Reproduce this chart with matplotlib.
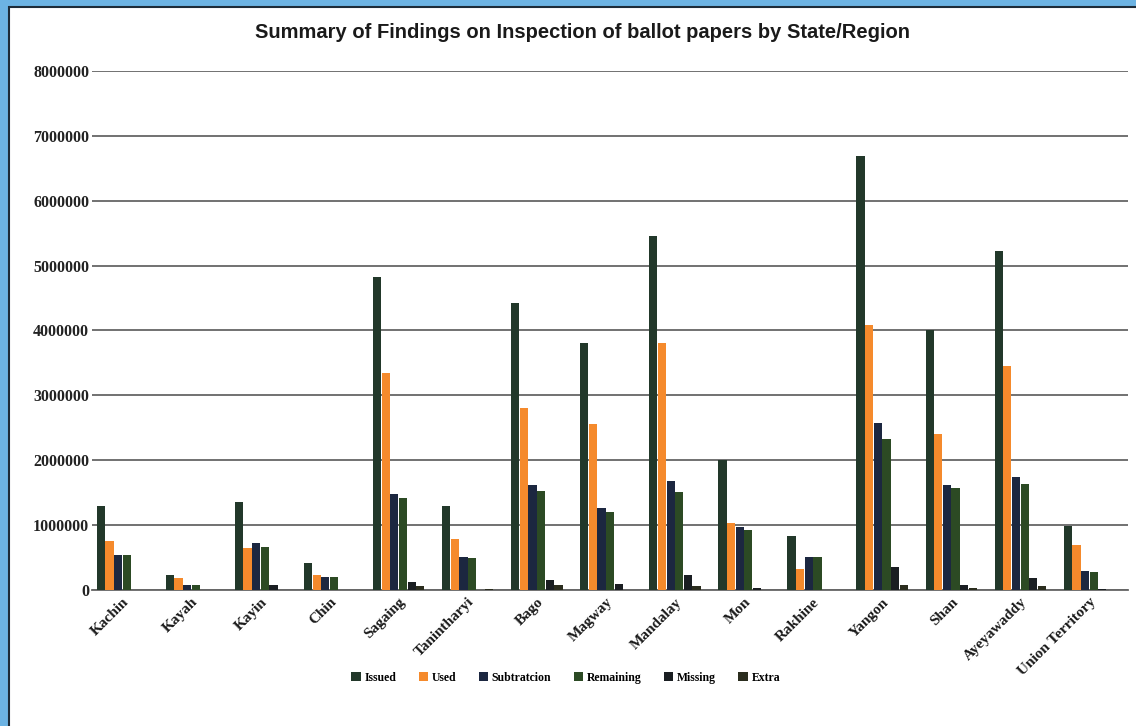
import numpy as np
import matplotlib
matplotlib.use('Agg')
import matplotlib.pyplot as plt
from matplotlib.patches import Rectangle

# ballot paper inspection by state / region
categories = ['Kachin', 'Kayah', 'Kayin', 'Chin', 'Sagaing', 'Tanintharyi', 'Bago',
              'Magway', 'Mandalay', 'Mon', 'Rakhine', 'Yangon', 'Shan',
              'Ayeyawaddy', 'Union Territory']
issued = [1300000, 230000, 1360000, 420000, 4820000, 1300000, 4420000, 3810000,
          5460000, 2000000, 830000, 6690000, 4010000, 5230000, 980000]
used = [760000, 180000, 640000, 230000, 3350000, 790000, 2810000, 2560000,
        3800000, 1040000, 320000, 4080000, 2410000, 3460000, 690000]
subtraction = [540000, 70000, 720000, 195000, 1480000, 510000, 1620000, 1270000,
               1680000, 970000, 510000, 2580000, 1620000, 1740000, 290000]
remaining = [540000, 70000, 660000, 195000, 1420000, 500000, 1530000, 1200000,
             1510000, 930000, 510000, 2330000, 1570000, 1640000, 280000]
missing = [0, 0, 70000, 0, 120000, 0, 160000, 100000, 230000, 30000, 0,
           350000, 77000, 180000, 20000]
extra = [0, 0, 0, 0, 56000, 15000, 77000, 0, 67000, 0, 0, 77000, 36000,
         60000, 0]

series_names = ['Issued', 'Used', 'Subtratcion', 'Remaining', 'Missing', 'Extra']
series = [issued, used, subtraction, remaining, missing, extra]
colors = ['#22382a', '#f58a2c', '#1c2740', '#2c4a24', '#1a1e22', '#2b2d1e']

fig = plt.figure(figsize=(11.36, 7.26), dpi=100)
fig.patch.set_facecolor('#6cb3e3')
# white slide panel with dark edge, kept behind the axes
fig.patches.append(Rectangle((9 / 1136, -0.01), 1.0, 1.01 - 7 / 726, transform=fig.transFigure,
                             facecolor='white', edgecolor='#1d2b38', linewidth=1.5, zorder=-10))

ax = fig.add_axes([0.081, 0.1873, 0.912, 0.715])
ax.set_zorder(1)
ax.set_facecolor('none')

x = np.arange(len(categories))
width = 0.125
for i, (name, vals, c) in enumerate(zip(series_names, series, colors)):
    ax.bar(x + (i - 2.5) * width - 0.06, vals, width * 0.95, color=c, label=name, zorder=3)

ax.set_ylim(0, 8000000)
ax.set_xlim(-0.5, len(categories) - 0.5)
ax.set_yticks(np.arange(0, 8000001, 1000000))
ax.set_yticklabels([str(v) for v in range(0, 8000001, 1000000)],
                   fontfamily='Liberation Serif', fontweight='bold', fontsize=11.5, color='#222222')
ax.tick_params(axis='y', length=0, pad=2)
ax.tick_params(axis='x', length=0, pad=4)
ax.yaxis.grid(True, color='#666666', linewidth=1.3, zorder=0)
for s in ['top', 'right', 'left']:
    ax.spines[s].set_visible(False)
ax.spines['bottom'].set_color('#666666')
ax.spines['bottom'].set_linewidth(1.3)

ax.set_xticks(x - 0.06)
ax.set_xticklabels(categories, rotation=45, ha='right', rotation_mode='anchor',
                   fontfamily='Liberation Serif', fontweight='bold', fontsize=11, color='#1a1a1a')

fig.text(0.513, 0.955, 'Summary of Findings on Inspection of ballot papers by State/Region',
         ha='center', va='center', fontfamily='Liberation Sans', fontweight='bold',
         fontsize=14.5, color='#1a1a1a')

leg = fig.legend(loc='center', bbox_to_anchor=(0.498, 0.066), ncol=6, frameon=False,
                 prop={'family': 'Liberation Serif', 'weight': 'bold', 'size': 8.5},
                 handlelength=0.8, handleheight=0.8, handletextpad=0.3, columnspacing=1.9)

fig.savefig('out.png', dpi=100, facecolor=fig.get_facecolor())
